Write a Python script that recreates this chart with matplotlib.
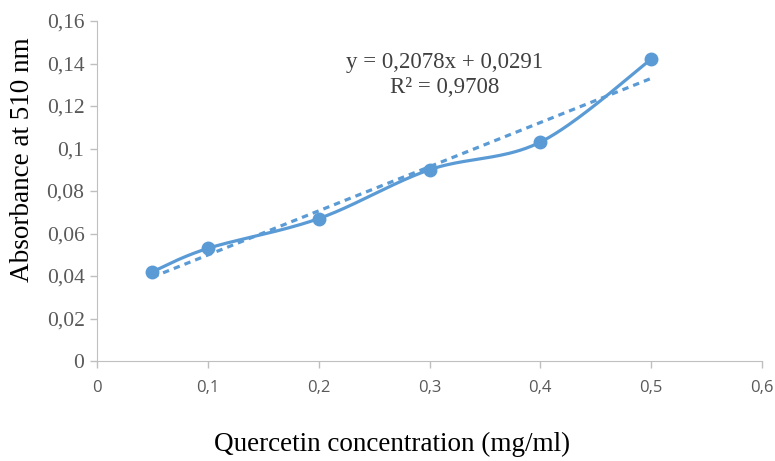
import numpy as np
import matplotlib
matplotlib.use("Agg")
import matplotlib.pyplot as plt
from matplotlib.ticker import FixedLocator

conc = [0.05, 0.1, 0.2, 0.3, 0.4, 0.5]
absorb = [0.042, 0.053, 0.067, 0.090, 0.103, 0.142]
slope, intercept, r2 = 0.2078, 0.0291, 0.9708
xticks = [0, 0.1, 0.2, 0.3, 0.4, 0.5, 0.6]
xlabels = ["0", "0,1", "0,2", "0,3", "0,4", "0,5", "0,6"]
yticks = [0, 0.02, 0.04, 0.06, 0.08, 0.1, 0.12, 0.14, 0.16]
ylabels = ["0", "0,02", "0,04", "0,06", "0,08", "0,1", "0,12", "0,14", "0,16"]

color = "#5B9BD5"
serif = ["Liberation Serif", "DejaVu Serif"]
sans = ["Open Sans", "Liberation Sans", "DejaVu Sans"]

def smooth(x, y, n=40):
    x = np.asarray(x, float); y = np.asarray(y, float)
    px = np.concatenate([[x[0]], x, [x[-1]]])
    py = np.concatenate([[y[0]], y, [y[-1]]])
    xs, ys = [], []
    for i in range(1, len(px) - 2):
        p0 = np.array([px[i], py[i]]); p3 = np.array([px[i + 1], py[i + 1]])
        p1 = p0 + (np.array([px[i + 1], py[i + 1]]) - np.array([px[i - 1], py[i - 1]])) / 6
        p2 = p3 - (np.array([px[i + 2], py[i + 2]]) - np.array([px[i], py[i]])) / 6
        t = np.linspace(0, 1, n)[:, None]
        pts = (1 - t) ** 3 * p0 + 3 * (1 - t) ** 2 * t * p1 + 3 * (1 - t) * t ** 2 * p2 + t ** 3 * p3
        xs.extend(pts[:, 0]); ys.extend(pts[:, 1])
    return np.array(xs), np.array(ys)

fig = plt.figure(figsize=(7.75, 4.61), dpi=100)
ax = fig.add_axes([97 / 775, 1 - 361 / 461, (762 - 97) / 775, (361 - 21) / 461])

sx, sy = smooth(conc, absorb)
ax.plot(sx, sy, color=color, lw=2.3, zorder=2)
ax.plot(conc, absorb, "o", color=color, ms=9, zorder=3)
tx = np.array([conc[0], conc[-1]])
ax.plot(tx, slope * tx + intercept, color=color, lw=2.3, ls=(0, (2, 1.6)), zorder=2)

ax.set_xlim(0, 0.6)
ax.set_ylim(0, 0.16)
ax.xaxis.set_major_locator(FixedLocator(xticks))
ax.yaxis.set_major_locator(FixedLocator(yticks))
ax.set_xticklabels(xlabels)
ax.set_yticklabels(ylabels)
for s in ["top", "right"]:
    ax.spines[s].set_visible(False)
for s in ["left", "bottom"]:
    ax.spines[s].set_color("#BFBFBF")
ax.tick_params(axis="both", colors="#BFBFBF", length=5, width=1, direction="out")
ax.tick_params(axis="x", labelcolor="#595959", pad=9, labelsize=12, labelfontfamily="Open Sans")
ax.tick_params(axis="y", labelcolor="#595959", pad=4, labelsize=15.5, labelfontfamily="Liberation Serif")

ppx = 665 / 0.6
ppy = 340 / 0.16
ax.text((445 - 97) / ppx, (361 - 62) / ppy,
        "y = 0,2078x + 0,0291", ha="center", va="center", fontfamily=serif, fontsize=16.5, color="#404040")
ax.text((445 - 97) / ppx, (361 - 87) / ppy,
        "R² = 0,9708", ha="center", va="center", fontfamily=serif, fontsize=16.5, color="#404040")

fig.text(392 / 775, 1 - 444 / 461, "Quercetin concentration (mg/ml)", ha="center", va="center",
         fontfamily=serif, fontsize=19.5, color="black")
fig.text(23 / 775, 1 - 160 / 461, "Absorbance at 510 nm", ha="center", va="center", rotation=90,
         fontfamily=serif, fontsize=19.5, color="black")

fig.savefig("out.png", dpi=100)
